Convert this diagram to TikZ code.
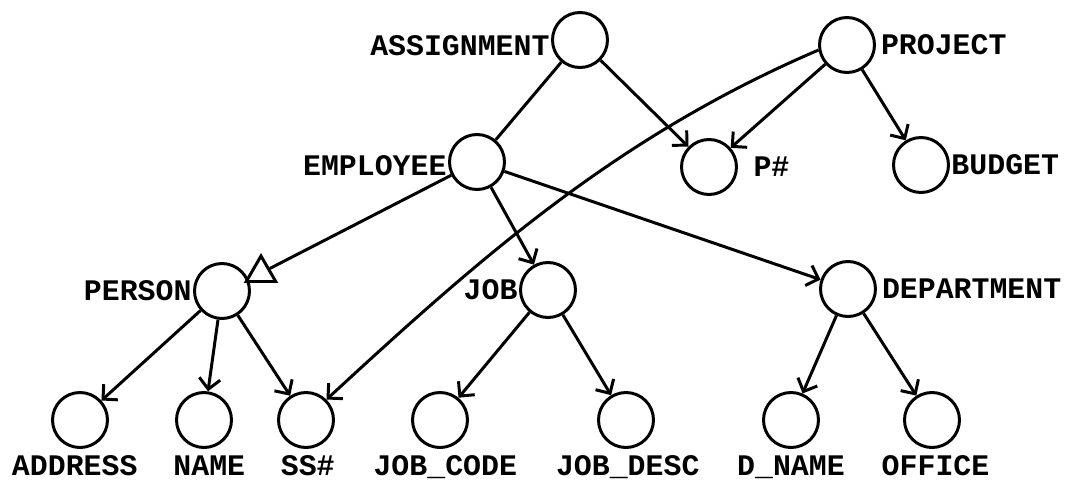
\documentclass[tikz,border=0pt]{standalone}
\usepackage{fontspec}
\setmonofont{Liberation Mono}
\usetikzlibrary{arrows.meta,positioning,shapes.geometric}

\begin{document}
\begin{tikzpicture}[x=0.02cm,y=-0.02cm,line width=1.7pt]

\tikzset{entnode/.style={draw,shape=circle,minimum size=1.1cm,inner sep=0pt},
lbl/.style={font=\ttfamily\bfseries\fontsize{17}{17}\selectfont,inner sep=0pt},
isamark/.style={shape=regular polygon,regular polygon sides=3,draw,minimum size=0.68cm,inner sep=0pt},
rel/.style={-{Straight Barb[length=6pt,width=12pt]}}}

\useasboundingbox (0,0) rectangle (1073,481);

% entity nodes
\node[entnode] (asg) at (580,40) {};
\node[entnode] (prj) at (847,45) {};
\node[entnode] (emp) at (477,162) {};
\node[entnode] (pno) at (709,167) {};
\node[entnode] (bud) at (921,165) {};
\node[entnode] (per) at (222,291) {};
\node[entnode] (job) at (548,290) {};
\node[entnode] (dep) at (848,289) {};
\node[isamark] (isa) at (261,273) {};

% attribute nodes
\foreach \n/\x in {addr/80,name/204,ss/306,jc/440,jd/626,dn/791,off/932} \node[entnode] (\n) at (\x,420) {};

% labels
\node[lbl,left=0pt of asg,yshift=-3pt] (asgLbl) {ASSIGNMENT};
\node[lbl,right=2pt of prj] (prjLbl) {PROJECT};
\node[lbl,left=0pt of emp,yshift=-2pt] (empLbl) {EMPLOYEE};
\node[lbl,right=8pt of pno] (pnoLbl) {P\#};
\node[lbl,right=0pt of bud] (budLbl) {BUDGET};
\node[lbl,left=0pt of per] (perLbl) {PERSON};
\node[lbl,left=0pt of job] (jobLbl) {JOB};
\node[lbl,right=2pt of dep] (depLbl) {DEPARTMENT};
\foreach \n/\t/\dx in {addr/ADDRESS/-3pt,name/NAME/3pt,ss/SS\#/1pt,jc/JOB\_CODE/3pt,jd/JOB\_DESC/1pt,dn/D\_NAME/0pt,off/OFFICE/2pt} \node[lbl,below=3pt of \n,xshift=\dx] (\n Lbl) {\t};

% edges
\draw (asg) -- (emp);
\draw[rel] (asg) -- (pno);
\draw[rel] (prj) -- (pno);
\draw[rel] (prj) -- (bud);
\draw[rel] (prj.190) .. controls (618,136) and (483,255) .. (ss.45);
\draw (emp) -- (isa);
\draw[rel] (emp) -- (job);
\draw[rel] (emp) -- (dep);
\foreach \a/\b in {per/addr,per/name,per/ss,job/jc,job/jd,dep/dn,dep/off} \draw[rel] (\a) -- (\b);

\end{tikzpicture}
\end{document}
